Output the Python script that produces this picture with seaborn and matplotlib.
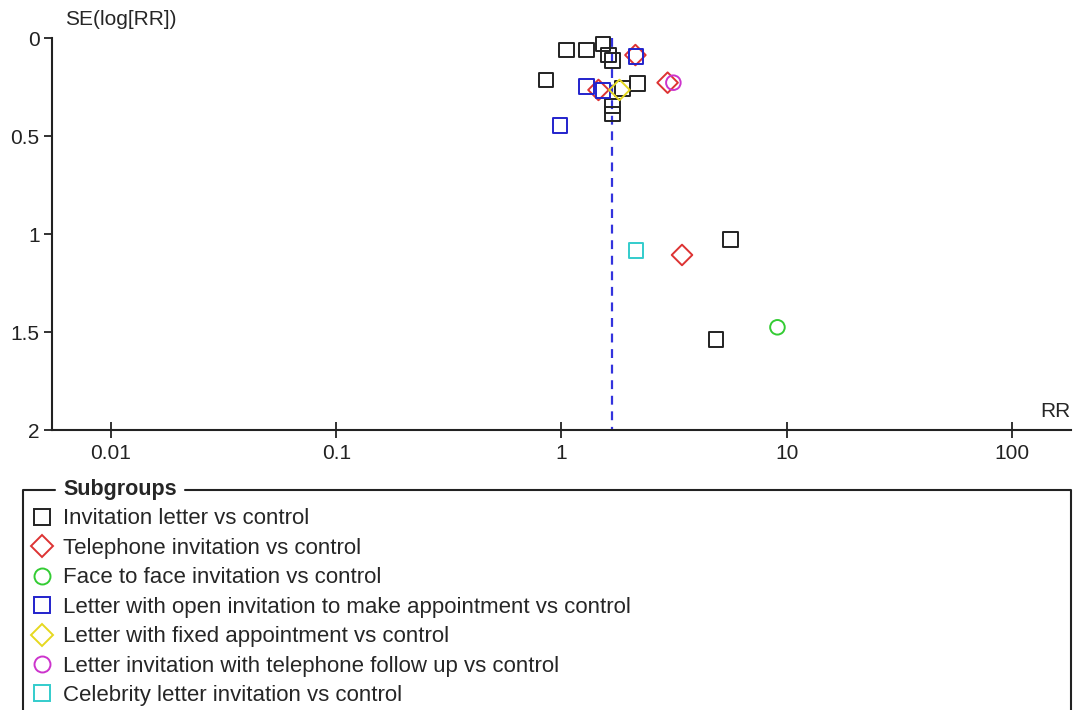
import pandas as pd
import seaborn as sns
import matplotlib.pyplot as plt
from matplotlib.lines import Line2D
from matplotlib.ticker import FixedLocator, FixedFormatter, NullLocator

W, H = 1074, 710

SUBGROUPS = [
    "Invitation letter vs control",
    "Telephone invitation vs control",
    "Face to face invitation vs control",
    "Letter with open invitation to make appointment vs control",
    "Letter with fixed appointment vs control",
    "Letter invitation with telephone follow up vs control",
    "Celebrity letter invitation vs control",
]
COLORS = ["#222222", "#dd3333", "#33cc33", "#2222cc", "#e6d820", "#cc33cc", "#33cccc"]
MARKERS = ["s", "D", "o", "s", "D", "o", "s"]

# study estimates read off the funnel: risk ratio and SE(log RR)
letter_rr = [1.05, 1.29, 1.53, 1.62, 1.69, 0.855, 2.18, 1.87, 1.69, 1.69, 5.62, 4.85]
letter_se = [0.061, 0.061, 0.031, 0.087, 0.116, 0.214, 0.231, 0.257, 0.347, 0.388, 1.027, 1.537]
phone_rr = [2.13, 1.46, 2.96, 3.43]
phone_se = [0.087, 0.265, 0.228, 1.107]
face_rr = [9.1]
face_se = [1.476]
open_rr = [2.14, 1.29, 1.53, 0.987]
open_se = [0.095, 0.248, 0.269, 0.445]
fixed_rr = [1.81]
fixed_se = [0.265]
followup_rr = [3.14]
followup_se = [0.228]
celeb_rr = [2.14]
celeb_se = [1.085]

POOLED_RR = 1.67
X_TICKS = [0.01, 0.1, 1, 10, 100]
X_TICK_LABELS = ["0.01", "0.1", "1", "10", "100"]
Y_TICKS = [0, 0.5, 1, 1.5, 2]
Y_TICK_LABELS = ["0", "0.5", "1", "1.5", "2"]

all_rr = [letter_rr, phone_rr, face_rr, open_rr, fixed_rr, followup_rr, celeb_rr]
all_se = [letter_se, phone_se, face_se, open_se, fixed_se, followup_se, celeb_se]
frames = []
for name, rr, se in zip(SUBGROUPS, all_rr, all_se):
    frames.append(pd.DataFrame({"group": name, "rr": rr, "se": se}))
df = pd.concat(frames, ignore_index=True)

sns.set_style("ticks")
plt.rcParams["font.family"] = ["Liberation Sans", "DejaVu Sans"]
plt.rcParams["font.size"] = 15

fig = plt.figure(figsize=(W / 100, H / 100), dpi=100)
ax = fig.add_axes([52 / W, 1 - 430 / H, (1071 - 52) / W, (430 - 38) / H])

ax.set_xscale("log")
sns.scatterplot(
    data=df, x="rr", y="se",
    hue="group", style="group",
    hue_order=SUBGROUPS, style_order=SUBGROUPS,
    palette=dict(zip(SUBGROUPS, COLORS)),
    markers=dict(zip(SUBGROUPS, MARKERS)),
    s=110, legend=False, ax=ax, zorder=3,
)
# hollow markers, not clipped at the top edge
coll = ax.collections[0]
fc = coll.get_facecolors()
coll.set_edgecolors(fc)
coll.set_facecolors("none")
coll.set_linewidths(1.4)
coll.set_clip_on(False)

ax.plot([POOLED_RR, POOLED_RR], [0, 2], color="#3333dd", linestyle=(0, (4, 3)),
        linewidth=1.6, zorder=2)

ax.set_xlim(0.00547, 183)
ax.set_ylim(2, 0)
ax.xaxis.set_major_locator(FixedLocator(X_TICKS))
ax.xaxis.set_major_formatter(FixedFormatter(X_TICK_LABELS))
ax.xaxis.set_minor_locator(NullLocator())
ax.set_yticks(Y_TICKS)
ax.set_yticklabels(Y_TICK_LABELS)

for side in ["top", "right"]:
    ax.spines[side].set_visible(False)
for side in ["left", "bottom"]:
    ax.spines[side].set_linewidth(1.5)
    ax.spines[side].set_color("#222222")
ax.tick_params(axis="y", direction="out", length=6, width=1.3, pad=3, colors="#222222")
ax.tick_params(axis="x", direction="inout", length=12, width=1.3, pad=4, colors="#222222")

ax.set_xlabel("RR", ha="right", va="center")
ax.xaxis.set_label_coords(1.0, 0.048)
ax.set_ylabel("SE(log[RR])", rotation=0, ha="left", va="center")
ax.yaxis.set_label_coords(0.0127, 1.046)

# legend box styled like a fieldset
handles = [
    Line2D([], [], marker=m, linestyle="none", markerfacecolor="none",
           markeredgecolor=c, markersize=11.5, markeredgewidth=1.4)
    for m, c in zip(MARKERS, COLORS)
]
fig.legend(handles, SUBGROUPS, loc="upper left", bbox_to_anchor=(31 / W, 1 - 508.5 / H),
           frameon=False, borderpad=0, borderaxespad=0, handlelength=1.0,
           handletextpad=0.45, labelspacing=0.38, fontsize=16)

fig.text(63 / W, 1 - 490 / H, "Subgroups", fontweight="bold", ha="left", va="center", fontsize=15.5)
fig.add_artist(Line2D([23 / W, 23 / W, 55 / W], [0, 1 - 490 / H, 1 - 490 / H],
                      color="#222222", linewidth=1.5))
fig.add_artist(Line2D([185 / W, 1071 / W, 1071 / W], [1 - 490 / H, 1 - 490 / H, 0],
                      color="#222222", linewidth=1.5))

fig.savefig("out.png", dpi=100)
